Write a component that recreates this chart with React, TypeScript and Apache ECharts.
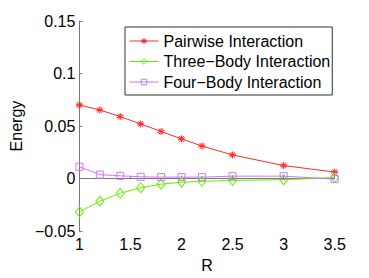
import React, { useEffect, useRef } from "react";
import * as echarts from "echarts";

const rValues = [1, 1.2, 1.4, 1.6, 1.8, 2, 2.2, 2.5, 3, 3.5];
const pairwise = [0.070, 0.0653, 0.059, 0.052, 0.0448, 0.0378, 0.031, 0.0225, 0.0124, 0.0062];
const threeBody = [-0.0317, -0.0216, -0.014, -0.0087, -0.0053, -0.0035, -0.0026, -0.0017, -0.001, 0.001];
const fourBody = [0.0112, 0.0038, 0.0026, 0.0017, 0.0014, 0.0014, 0.0014, 0.0023, 0.0023, -0.0005];
const seriesNames = ["Pairwise Interaction", "Three\u2212Body Interaction", "Four\u2212Body Interaction"];

const FONT = "'Liberation Sans', Arial, Helvetica, sans-serif";
const AXIS_COLOR = "#777777";
const RED = "#ff2a2a";
const GREEN = "#66ee00";
const PURPLE = "#cc77ff";
const COLORS = [RED, GREEN, PURPLE];

const asterisk = "path://M0,-1L0,1M-0.95,-0.31L0.95,0.31M-0.95,0.31L0.95,-0.31M-0.59,-0.81L0.59,0.81M-0.59,0.81L0.59,-0.81";

function pairs(ys: number[]) {
  return rValues.map((x, i) => [x, ys[i]]);
}

const fmt = (v: number) => {
  const s = String(Math.round(v * 1000) / 1000);
  return s.replace("-", "\u2212");
};

export default function App() {
  const ref = useRef<HTMLDivElement>(null);
  useEffect(() => {
    if (!ref.current) return;
    const chart = echarts.init(ref.current, undefined, { renderer: "svg" });
    chart.setOption({
      animation: false,
      backgroundColor: "#ffffff",
      textStyle: { fontFamily: FONT },
      grid: { left: 66.7, right: 34.3, top: 21, bottom: 39 },
      legend: {
        left: 125,
        top: 27,
        orient: "vertical",
        padding: [6, 2, 5, 4],
        itemGap: 4.5,
        itemWidth: 29,
        itemHeight: 7,
        itemTextGap: 5,
        borderColor: "#333333",
        borderWidth: 1,
        backgroundColor: "#ffffff",
        textStyle: { fontSize: 16, color: "#000000", fontFamily: FONT },
        data: seriesNames.map((name, i) => ({
          name,
          itemStyle: {
            color: "rgba(0,0,0,0)",
            borderColor: COLORS[i],
            borderWidth: 1,
          },
          lineStyle: { color: COLORS[i], width: 1 },
        })),
      },
      xAxis: {
        type: "value",
        min: 1,
        max: 3.5,
        interval: 0.5,
        name: "R",
        nameLocation: "middle",
        nameGap: 21,
        nameTextStyle: { fontSize: 16, color: "#000000", fontFamily: FONT },
        axisLine: { show: true, lineStyle: { color: AXIS_COLOR, width: 1 } },
        axisTick: { show: true, inside: true, length: 3, lineStyle: { color: AXIS_COLOR } },
        axisLabel: { fontSize: 16, color: "#000000", margin: 5, formatter: fmt, fontFamily: FONT },
        splitLine: { show: false },
      },
      yAxis: {
        type: "value",
        min: -0.05,
        max: 0.15,
        interval: 0.05,
        name: "Energy",
        nameLocation: "middle",
        nameGap: 47,
        nameTextStyle: { fontSize: 16, color: "#000000", fontFamily: FONT },
        axisLine: { show: true, lineStyle: { color: AXIS_COLOR, width: 1 } },
        axisTick: { show: true, inside: true, length: 3, lineStyle: { color: AXIS_COLOR } },
        axisLabel: { fontSize: 16, color: "#000000", margin: 4, formatter: fmt, fontFamily: FONT },
        splitLine: { show: false },
      },
      series: [
        {
          name: seriesNames[0],
          type: "line",
          data: pairs(pairwise),
          symbol: asterisk,
          symbolSize: 7,
          showAllSymbol: true,
          lineStyle: { color: RED, width: 1 },
          itemStyle: { color: "rgba(0,0,0,0)", borderColor: RED, borderWidth: 1 },
        },
        {
          name: seriesNames[1],
          type: "line",
          data: pairs(threeBody),
          symbol: "diamond",
          symbolSize: [8, 10],
          showAllSymbol: true,
          lineStyle: { color: GREEN, width: 1 },
          itemStyle: { color: "rgba(0,0,0,0)", borderColor: GREEN, borderWidth: 1 },
        },
        {
          name: seriesNames[2],
          type: "line",
          data: pairs(fourBody),
          symbol: "rect",
          symbolSize: 7,
          showAllSymbol: true,
          lineStyle: { color: PURPLE, width: 1 },
          itemStyle: { color: "rgba(0,0,0,0)", borderColor: PURPLE, borderWidth: 1 },
        },
      ],
    });
    return () => chart.dispose();
  }, []);
  return (
    <div
      ref={ref}
      style={{ position: "fixed", left: 0, top: 0, width: 369, height: 278 }}
    />
  );
}
